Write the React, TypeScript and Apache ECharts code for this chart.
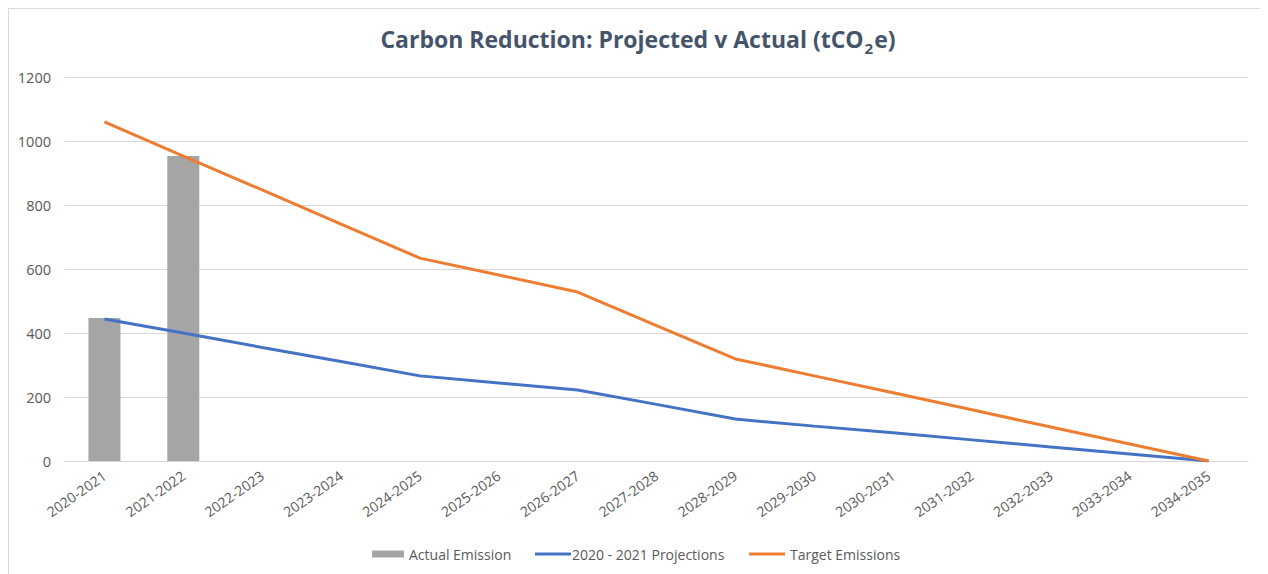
import React, { useEffect, useRef } from "react";
import * as echarts from "echarts";

const categories = [
  "2020-2021", "2021-2022", "2022-2023", "2023-2024", "2024-2025",
  "2025-2026", "2026-2027", "2027-2028", "2028-2029", "2029-2030",
  "2030-2031", "2031-2032", "2032-2033", "2033-2034", "2034-2035",
];
const actualEmission = [447, 953, null, null, null, null, null, null, null, null, null, null, null, null, null];
const projections = [444, 400, 355, 311, 266, 244, 222, 177, 131, 109, 88, 66, 44, 22, 0];
const targetEmissions = [1060, 953, 847, 740, 634, 581, 528, 423, 319, 266, 213, 160, 106, 53, 0];
const yTicks = { min: 0, max: 1200, interval: 200 };

const FONT = '"Open Sans", "Noto Sans", sans-serif';
const LABEL = "#595959";

export default function App() {
  const ref = useRef<HTMLDivElement>(null);
  useEffect(() => {
    const chart = echarts.init(ref.current!, null, { renderer: "svg" });
    const legendText = { fontFamily: FONT, fontSize: 14, color: LABEL };
    chart.setOption({
      animation: false,
      backgroundColor: "#fff",
      title: {
        text: "{a|Carbon Reduction: Projected v Actual (tCO}{s|2}{a|e)}",
        left: "center",
        top: 9,
        padding: 0,
        textStyle: {
          rich: {
            a: { fontFamily: FONT, fontSize: 23, fontWeight: "bold", color: "#44546a", lineHeight: 32, verticalAlign: "bottom" },
            s: { fontFamily: FONT, fontSize: 15, fontWeight: "bold", color: "#44546a", lineHeight: 32, verticalAlign: "bottom", padding: [0, 1, -5, 1] },
          },
        },
      },
      legend: [
        {
          data: [{ name: "Actual Emission", icon: "rect" }],
          left: 363,
          top: 538,
          padding: 0,
          itemWidth: 32,
          itemHeight: 7,
          textStyle: { ...legendText },
        },
        {
          data: [{ name: "2020 - 2021 Projections", icon: "rect" }],
          left: 526,
          top: 538,
          padding: 0,
          itemWidth: 36,
          itemHeight: 3,
          textStyle: { ...legendText, padding: [0, 0, 0, -4] },
        },
        {
          data: [{ name: "Target Emissions", icon: "rect" }],
          left: 740,
          top: 538,
          padding: 0,
          itemWidth: 36,
          itemHeight: 3,
          textStyle: { ...legendText },
        },
      ],
      grid: { left: 56, right: 19, top: 68, bottom: 120 },
      xAxis: {
        type: "category",
        data: categories,
        axisLine: { lineStyle: { color: "#d9d9d9", width: 1 } },
        axisTick: { show: false },
        axisLabel: {
          rotate: 35,
          margin: 13,
          color: LABEL,
          fontFamily: FONT,
          fontSize: 14,
          interval: 0,
        },
      },
      yAxis: {
        type: "value",
        min: yTicks.min,
        max: yTicks.max,
        interval: yTicks.interval,
        axisLine: { show: false },
        axisTick: { show: false },
        splitLine: { lineStyle: { color: "#d9d9d9", width: 1 } },
        axisLabel: {
          color: LABEL,
          fontFamily: FONT,
          fontSize: 14.5,
          margin: 14,
          formatter: (v: number) => String(v),
        },
      },
      series: [
        {
          name: "Actual Emission",
          type: "bar",
          data: actualEmission,
          barWidth: 32,
          itemStyle: { color: "#a5a5a5" },
        },
        {
          name: "2020 - 2021 Projections",
          type: "line",
          data: projections,
          symbol: "none",
          lineStyle: { color: "#4472c4", width: 3 },
          itemStyle: { color: "#4472c4" },
        },
        {
          name: "Target Emissions",
          type: "line",
          data: targetEmissions,
          symbol: "none",
          lineStyle: { color: "#ed7d31", width: 3 },
          itemStyle: { color: "#ed7d31" },
        },
      ],
    });
    return () => chart.dispose();
  }, []);
  return (
    <div style={{ width: 1260, height: 574, border: "1px solid #d9d9d9", boxSizing: "border-box" }}>
      <div ref={ref} style={{ width: 1258, height: 572 }} />
    </div>
  );
}
